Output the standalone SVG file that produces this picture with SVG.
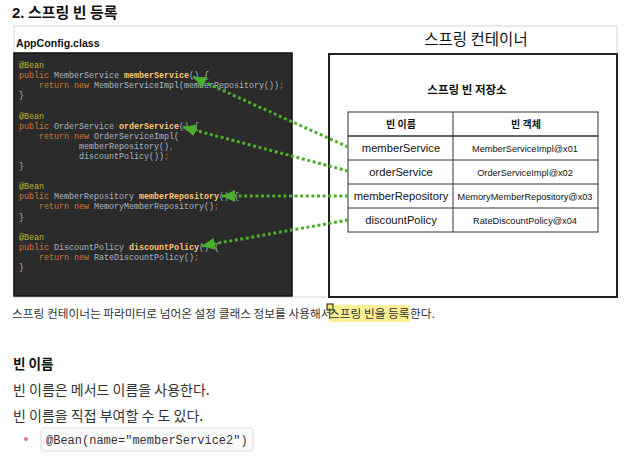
<svg xmlns="http://www.w3.org/2000/svg" width="631" height="456" viewBox="0 0 631 456">
<defs>
<style>
.kr{font-family:"Noto Sans CJK KR","Noto Sans",sans-serif}
.sans{font-family:"Liberation Sans",Arial,sans-serif}
.code{font-family:"Liberation Mono","DejaVu Sans Mono",monospace;font-size:8.33px;fill:#a9b7c6;white-space:pre}
.kw{fill:#cc7832}
.ann{fill:#bbb529}
.fn{fill:#ffc66d;font-weight:bold}
.cell{fill:none;stroke:#333;stroke-width:1}
.name{font-family:"Liberation Sans",Arial,sans-serif;font-size:11.2px;fill:#111;text-anchor:middle}
.obj{font-family:"Liberation Sans",Arial,sans-serif;font-size:9.2px;fill:#111;text-anchor:middle}
.conn{fill:none;stroke:#4caf2b;stroke-width:3;stroke-dasharray:3 2.6}
</style>
<marker id="ah" markerUnits="userSpaceOnUse" markerWidth="14" markerHeight="12" refX="13" refY="6" orient="auto">
<path d="M0,0 L13,6 L0,12 z" fill="#4caf2b"/>
</marker>
</defs>
<rect width="631" height="456" fill="#fff"/>

<g id="title">
<text x="12" y="18" class="kr" font-size="15" font-weight="bold" fill="#111"><tspan class="sans">2.</tspan> 스프링 빈 등록</text>
</g>

<g id="frame">
<rect x="14" y="26" width="603" height="271" fill="#fff" stroke="#ddd" stroke-width="1.2"/>
</g>

<g id="appconfig">
<text x="16" y="47" class="sans" font-size="10.6" font-weight="bold" fill="#111">AppConfig.class</text>
<rect x="14" y="53" width="278" height="243" fill="#2b2b2b" stroke="#111" stroke-width="1.5"/>
<g xml:space="preserve">
<text x="19" y="68" class="code"><tspan class="ann">@Bean</tspan></text>
<text x="19" y="78.1" class="code"><tspan class="kw">public</tspan> MemberService <tspan class="fn">memberService</tspan>() {</text>
<text x="19" y="88.2" class="code">    <tspan class="kw">return new</tspan> MemberServiceImpl(memberRepository())<tspan class="kw">;</tspan></text>
<text x="19" y="98.3" class="code">}</text>
<text x="19" y="118.5" class="code"><tspan class="ann">@Bean</tspan></text>
<text x="19" y="128.6" class="code"><tspan class="kw">public</tspan> OrderService <tspan class="fn">orderService</tspan>() {</text>
<text x="19" y="138.7" class="code">    <tspan class="kw">return new</tspan> OrderServiceImpl(</text>
<text x="19" y="148.8" class="code">            memberRepository()<tspan class="kw">,</tspan></text>
<text x="19" y="158.9" class="code">            discountPolicy())<tspan class="kw">;</tspan></text>
<text x="19" y="169" class="code">}</text>
<text x="19" y="189.2" class="code"><tspan class="ann">@Bean</tspan></text>
<text x="19" y="199.3" class="code"><tspan class="kw">public</tspan> MemberRepository <tspan class="fn">memberRepository</tspan>() {</text>
<text x="19" y="209.4" class="code">    <tspan class="kw">return new</tspan> MemoryMemberRepository()<tspan class="kw">;</tspan></text>
<text x="19" y="219.5" class="code">}</text>
<text x="19" y="239.7" class="code"><tspan class="ann">@Bean</tspan></text>
<text x="19" y="249.8" class="code"><tspan class="kw">public</tspan> DiscountPolicy <tspan class="fn">discountPolicy</tspan>() {</text>
<text x="19" y="259.9" class="code">    <tspan class="kw">return new</tspan> RateDiscountPolicy()<tspan class="kw">;</tspan></text>
<text x="19" y="270" class="code">}</text>
</g>
</g>

<g id="container">
<text x="476" y="45" class="kr" font-size="15.5" fill="#111" text-anchor="middle">스프링 컨테이너</text>
<rect x="329" y="54" width="288" height="243" fill="#fff" stroke="#222" stroke-width="2"/>
<text x="467" y="94" class="kr" font-size="11.5" font-weight="bold" fill="#111" text-anchor="middle">스프링 빈 저장소</text>
</g>

<g id="bean-table">
<rect x="348" y="112" width="250" height="120" class="cell"/>
<line x1="453" y1="112" x2="453" y2="232" class="cell"/>
<line x1="348" y1="136" x2="598" y2="136" stroke="#333" stroke-width="1.6"/>
<line x1="348" y1="160" x2="598" y2="160" class="cell"/>
<line x1="348" y1="184" x2="598" y2="184" class="cell"/>
<line x1="348" y1="208" x2="598" y2="208" class="cell"/>
<text x="401" y="128" class="kr" font-size="10" font-weight="bold" fill="#111" text-anchor="middle">빈 이름</text>
<text x="526" y="128" class="kr" font-size="10" font-weight="bold" fill="#111" text-anchor="middle">빈 객체</text>
</g>
<g id="bean-memberService">
<text x="401" y="152" class="name">memberService</text>
<text x="525" y="151.5" class="obj">MemberServiceImpl@x01</text>
</g>
<g id="bean-orderService">
<text x="401" y="176" class="name">orderService</text>
<text x="525" y="175.5" class="obj">OrderServiceImpl@x02</text>
</g>
<g id="bean-memberRepository">
<text x="401" y="200" class="name">memberRepository</text>
<text x="525" y="199.5" class="obj">MemoryMemberRepository@x03</text>
</g>
<g id="bean-discountPolicy">
<text x="401" y="224" class="name">discountPolicy</text>
<text x="525" y="223.5" class="obj">RateDiscountPolicy@x04</text>
</g>

<g id="connectors">
<line x1="348" y1="147" x2="193" y2="77" class="conn" marker-end="url(#ah)"/>
<line x1="348" y1="171" x2="183" y2="127" class="conn" marker-end="url(#ah)"/>
<line x1="348" y1="196" x2="222" y2="196" class="conn" marker-end="url(#ah)"/>
<line x1="348" y1="220" x2="202" y2="246" class="conn" marker-end="url(#ah)"/>
</g>

<g id="description">
<rect x="329" y="305" width="81" height="17" fill="#fbef94"/>
<rect x="327" y="304" width="6" height="6" fill="#fde66a" stroke="#111" stroke-width="1"/>
<text x="12" y="318" class="kr" font-size="11.7" fill="#333">스프링 컨테이너는 파라미터로 넘어온 설정 클래스 정보를 사용해서 <tspan x="329">스프링 빈을 등록</tspan><tspan x="410">한다.</tspan></text>
<text x="13" y="368.5" class="kr" font-size="13.6" font-weight="bold" fill="#111">빈 이름</text>
<text x="13" y="394.5" class="kr" font-size="14" fill="#333">빈 이름은 메서드 이름을 사용한다.</text>
<text x="13" y="420.5" class="kr" font-size="14" fill="#333">빈 이름을 직접 부여할 수 도 있다.</text>
<circle cx="26" cy="439" r="2" fill="#e07a86"/>
<rect x="41" y="428" width="212" height="23" rx="3" fill="#fbfbfb" stroke="#ddd" stroke-width="1"/>
<text x="46" y="443.5" font-family="'Liberation Mono','DejaVu Sans Mono',monospace" font-size="12" fill="#333">@Bean(name="memberService2")</text>
</g>
</svg>
